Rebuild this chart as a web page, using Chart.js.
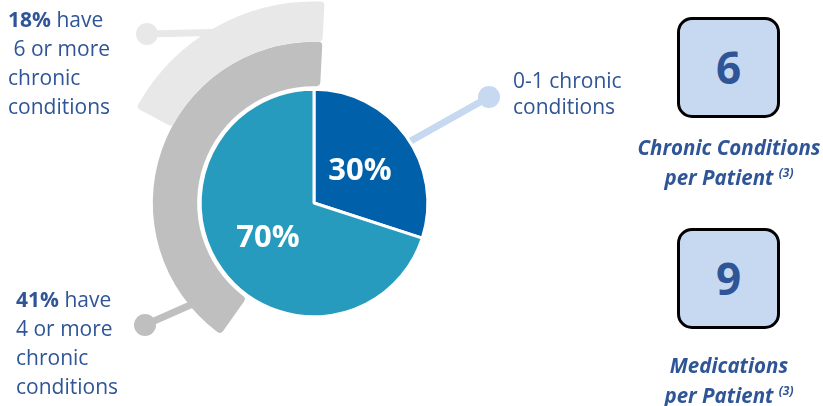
<!DOCTYPE html>
<html>
<head>
<meta charset="utf-8">
<script src="https://cdn.jsdelivr.net/npm/chart.js@4/dist/chart.umd.min.js"></script>
<style>
  html, body { margin: 0; padding: 0; background: #fff; }
  #wrap { position: relative; width: 823px; height: 406px; overflow: hidden;
    font-family: "Open Sans", sans-serif; color: #2F5597; }
  #chart { position: absolute; left: 0; top: 0; }
  .lbl { position: absolute; font-size: 21px; line-height: 29px; white-space: nowrap; }
  .lbl b { font-weight: 700; }
  .box { position: absolute; left: 677px; width: 97px; height: 95px; border: 3.5px solid #000;
    border-radius: 15px; background: #C6D9F1; text-align: center; font-weight: 700;
    font-size: 44px; line-height: 95px; color: #2F5597; }
  .cap { position: absolute; left: 618px; width: 222px; text-align: center; font-weight: 700;
    font-style: italic; font-size: 20.5px; line-height: 30px; white-space: nowrap; }
  .cap sup { font-size: 12px; vertical-align: 8px; line-height: 0; }
</style>
</head>
<body>
<div id="wrap">
  <canvas id="chart" width="823" height="406"></canvas>
  <div class="lbl" id="lbl-18" style="left:8px; top:5px;"></div>
  <div class="lbl" id="lbl-41" style="left:16px; top:285px;"></div>
  <div class="lbl" id="lbl-01" style="left:513px; top:67px; line-height:26px;"></div>
  <div class="box" id="box-0" style="top:17px;"></div>
  <div class="cap" id="cap-0" style="top:132px;"></div>
  <div class="box" id="box-1" style="top:228px;"></div>
  <div class="cap" id="cap-1" style="top:350px;"></div>
</div>
<script>
(function () {
    "use strict";

    // inner pie: share of patients by chronic conditions
    const PIE_LABELS = ["0-1 chronic conditions", "2+ chronic conditions"];
    const PIE_VALUES = [30, 70];
    // outer rings (percent of patients)
    const RING_LABELS = ["4 or more", "6 or more"];
    const RING_VALUES = [41, 18];
    // key stats on the right
    const STAT_VALUES = [6, 9];
    const STAT_LABELS = [["Chronic Conditions", "per Patient"], ["Medications", "per Patient"]];

    const BLUE_DARK = "#0060A9";
    const TEAL = "#279BBE";
    const GRAY = "#BFBFBF";
    const GRAY_LIGHT = "#E8E8E8";
    const CONNECT_BLUE = "#C6D9F1";

    // text blocks
    document.getElementById("lbl-18").innerHTML =
        `<b>${RING_VALUES[1]}%</b> have<br>&nbsp;${RING_LABELS[1]}<br>chronic<br>conditions`;
    document.getElementById("lbl-41").innerHTML =
        `<b>${RING_VALUES[0]}%</b> have<br>${RING_LABELS[0]}<br>chronic<br>conditions`;
    document.getElementById("lbl-01").innerHTML = "0-1 chronic<br>conditions";
    STAT_VALUES.forEach((v, i) => {
        document.getElementById(`box-${i}`).textContent = v;
        document.getElementById(`cap-${i}`).innerHTML =
            `${STAT_LABELS[i][0]}<br>${STAT_LABELS[i][1]} <sup>(3)</sup>`;
    });

    // ring = [rest, share] so the colored part ends at the top and runs counter-clockwise
    function ring(value, color, weight) {
        return {
            data: [100 - value, value],
            backgroundColor: ["rgba(0,0,0,0)", color],
            borderWidth: 0,
            borderRadius: [0, 4],
            rotation: 3,
            weight,
        };
    }

    // connectors: dot near the label, line into the mark (drawn under the arcs)
    const connectors = [
        { ds: 0, idx: 1, angle: -19, dot: [147, 34], color: GRAY_LIGHT },
        { ds: 1, idx: 1, angle: -132, dot: [145, 325], color: GRAY },
        { ds: 3, idx: 0, angle: 54, dot: [489, 97], color: CONNECT_BLUE },
    ];

    const connectorPlugin = {
        id: "connectors",
        beforeDatasetsDraw(chart) {
            const ctx = chart.ctx;
            connectors.forEach(c => {
                const arc = chart.getDatasetMeta(c.ds).data[c.idx];
                const a = (c.angle - 90) * Math.PI / 180;
                const r = (arc.innerRadius + arc.outerRadius) / 2;
                const x = arc.x + Math.cos(a) * r;
                const y = arc.y + Math.sin(a) * r;
                ctx.save();
                ctx.strokeStyle = c.color;
                ctx.fillStyle = c.color;
                ctx.lineWidth = 7;
                ctx.beginPath();
                ctx.moveTo(c.dot[0], c.dot[1]);
                ctx.lineTo(x, y);
                ctx.stroke();
                ctx.beginPath();
                ctx.arc(c.dot[0], c.dot[1], 11, 0, Math.PI * 2);
                ctx.fill();
                ctx.restore();
            });
        },
    };

    const pieLabelPlugin = {
        id: "pieLabels",
        afterDatasetsDraw(chart) {
            const ctx = chart.ctx;
            const meta = chart.getDatasetMeta(3);
            ctx.save();
            ctx.fillStyle = "#fff";
            ctx.font = "bold 31px 'Open Sans', sans-serif";
            ctx.textAlign = "center";
            ctx.textBaseline = "middle";
            meta.data.forEach((arc, i) => {
                const p = arc.tooltipPosition();
                ctx.fillText(`${PIE_VALUES[i]}%`, p.x, p.y + 2);
            });
            ctx.restore();
        },
    };

    new Chart(document.getElementById("chart"), {
        type: "doughnut",
        data: {
            labels: PIE_LABELS,
            datasets: [
                ring(RING_VALUES[1], GRAY_LIGHT, 40),
                ring(RING_VALUES[0], GRAY, 44),
                { data: [1], backgroundColor: ["rgba(0,0,0,0)"], borderWidth: 0, weight: 3 },
                {
                    data: PIE_VALUES,
                    backgroundColor: [BLUE_DARK, TEAL],
                    borderColor: "#fff",
                    borderWidth: 3,
                    weight: 113,
                },
            ],
        },
        options: {
            responsive: false,
            animation: false,
            cutout: 0,
            layout: { padding: { left: 112.5, top: 1.5, right: 307.5, bottom: 1.5 } },
            plugins: { legend: { display: false }, tooltip: { enabled: false } },
            events: [],
        },
        plugins: [connectorPlugin, pieLabelPlugin],
    });
})();
</script>
</body>
</html>
